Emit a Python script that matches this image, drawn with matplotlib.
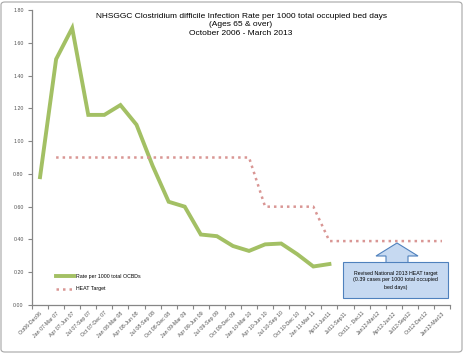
import numpy as np
import matplotlib
matplotlib.use("Agg")
import matplotlib.pyplot as plt
from matplotlib.patches import Polygon, Rectangle, FancyBboxPatch

quarters = [
    "Oct06-Dec06", "Jan 07-Mar 07", "Apr 07-Jun 07", "Jul 07-Sep 07",
    "Oct 07-Dec 07", "Jan 08-Mar 08", "Apr 08-Jun 08", "Jul 08-Sep 08",
    "Oct 08-Dec 08", "Jan 09-Mar 09", "Apr 09-Jun 09", "Jul 09-Sep 09",
    "Oct 09-Dec 09", "Jan 10-Mar 10", "Apr 10-Jun 10", "Jul 10-Sep 10",
    "Oct 10-Dec 10", "Jan 11-Mar 11", "Apr11-Jun11", "Jul11-Sep11",
    "Oct11 - Dec11", "Jan12-Mar12", "Apr12-Jun12", "Jul12-Sep12",
    "Oct12-Dec12", "Jan13-Mar13",
]
rate = [0.78, 1.50, 1.69, 1.16, 1.16, 1.22, 1.10, 0.85, 0.63, 0.60,
        0.43, 0.42, 0.36, 0.33, 0.37, 0.375, 0.31, 0.235, 0.25]
heat_target = [np.nan, 0.90, 0.90, 0.90, 0.90, 0.90, 0.90, 0.90, 0.90, 0.90,
               0.90, 0.90, 0.90, 0.90, 0.60, 0.60, 0.60, 0.60, 0.39, 0.39,
               0.39, 0.39, 0.39, 0.39, 0.39, 0.39]
yticks = [0.0, 0.2, 0.4, 0.6, 0.8, 1.0, 1.2, 1.4, 1.6, 1.8]

W, H = 465, 358
fig = plt.figure(figsize=(W / 100, H / 100), dpi=100)
ax = fig.add_axes([32 / W, 1 - 305 / H, (450 - 32) / W, (305 - 10) / H])

font = "Liberation Sans"

x = np.arange(len(quarters))
ax.plot(x[:len(rate)], rate, color="#a3c064", lw=2.8, solid_joinstyle="miter",
        label="Rate per 1000 total OCBDs")
ax.plot(x, heat_target, color="#d99694", lw=1.8, linestyle=(0, (1, 1.6)),
        label="HEAT Target")

ax.set_xlim(-0.5, len(quarters) - 0.5)
ax.set_ylim(0, 1.8)
ax.set_yticks(yticks)
ax.set_yticklabels([f"{v:.2f}" for v in yticks], fontsize=3.8, family=font,
                   color="#505050")
ax.set_xticks(x)
ax.set_xticklabels(quarters, rotation=45, ha="right", rotation_mode="anchor",
                   fontsize=3.8, family=font, color="#505050")
ax.set_xticks(np.arange(-0.5, len(quarters)), minor=True)
ax.tick_params(axis="x", which="major", length=0, pad=4)
ax.tick_params(axis="x", which="minor", length=3, color="#868686", width=0.8)
ax.tick_params(axis="y", length=3, color="#868686", width=0.8, pad=3)
for side in ["top", "right"]:
    ax.spines[side].set_visible(False)
for side in ["left", "bottom"]:
    ax.spines[side].set_color("#868686")
    ax.spines[side].set_linewidth(0.9)

ax.text(0.5, 0.99,
        "NHSGGC Clostridium difficile Infection Rate per 1000 total occupied bed days\n"
        "(Ages 65 & over)\nOctober 2006 - March 2013",
        transform=ax.transAxes, ha="center", va="top", fontsize=6.0,
        family=font, linespacing=1.3)

leg = ax.legend(loc="lower left", bbox_to_anchor=(0.045, 0.03), frameon=False,
                prop={"family": font, "size": 3.8}, handlelength=3.5,
                labelspacing=1.4, handletextpad=0.4)

# callout arrow and box
def fp(pts):
    return [(px / W, 1 - py / H) for px, py in pts]

arrow = Polygon(fp([(397, 243), (376, 256), (386, 256), (386, 263), (408, 263),
                    (408, 256), (418, 256)]), closed=True,
                transform=fig.transFigure, facecolor="#c6d9f1",
                edgecolor="#4f81bd", lw=0.8, zorder=5)
fig.patches.append(arrow)
box = Rectangle((343 / W, 1 - 298 / H), 105 / W, 36 / H,
                transform=fig.transFigure, facecolor="#c6d9f1",
                edgecolor="#4f81bd", lw=0.8, zorder=5)
fig.patches.append(box)
fig.text(395.5 / W, 1 - 280 / H,
         "Revised National 2013 HEAT target\n(0.39 cases per 1000 total occupied\nbed days)",
         ha="center", va="center", fontsize=3.8, family=font, zorder=6,
         linespacing=1.5)

border = FancyBboxPatch((1 / W, 1 - 352 / H), 461 / W, 350 / H,
                        boxstyle="round,pad=0,rounding_size=0.008",
                        transform=fig.transFigure, facecolor="none",
                        edgecolor="#a6a6a6", lw=0.8)
fig.patches.append(border)

fig.savefig("out.png", dpi=100)
